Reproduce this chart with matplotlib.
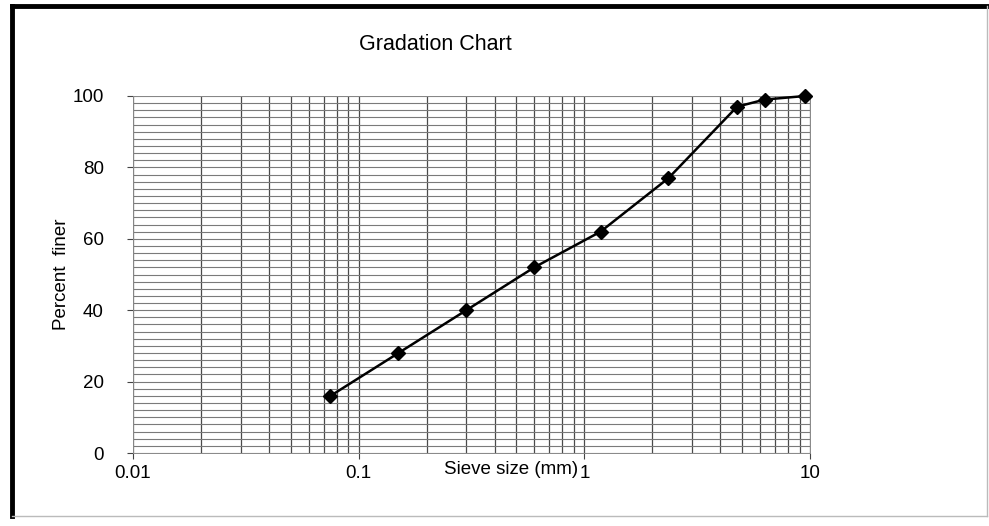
import numpy as np
import matplotlib.pyplot as plt
from matplotlib.ticker import MultipleLocator, LogLocator, NullFormatter, FixedLocator, FixedFormatter
from matplotlib.lines import Line2D

# sieve analysis data
sieve_mm = [0.075, 0.15, 0.3, 0.6, 1.18, 2.36, 4.75, 6.3, 9.5]
pct_finer = [16, 28, 40, 52, 62, 77, 97, 99, 100]

x_ticks = [0.01, 0.1, 1, 10]
x_ticklabels = ['0.01', '0.1', '1', '10']
y_ticks = [0, 20, 40, 60, 80, 100]

plt.rcParams['font.family'] = ['Liberation Sans', 'DejaVu Sans']
fs = 13.5
W, H = 989, 526

fig = plt.figure(figsize=(W / 100, H / 100), dpi=100)
ax = fig.add_axes([133 / W, 1 - 453 / H, (810 - 133) / W, (453 - 96) / H])

ax.set_xscale('log')
ax.set_xlim(0.01, 10)
ax.set_ylim(0, 100)

ax.plot(sieve_mm, pct_finer, '-', color='black', lw=1.8, marker='D', ms=7,
        mfc='black', mec='black', zorder=5, clip_on=False)

# dense graph-paper grid
ax.xaxis.set_major_locator(FixedLocator(x_ticks))
ax.xaxis.set_major_formatter(FixedFormatter(x_ticklabels))
ax.xaxis.set_minor_locator(LogLocator(base=10, subs=np.arange(2, 10)))
ax.xaxis.set_minor_formatter(NullFormatter())
ax.yaxis.set_major_locator(FixedLocator(y_ticks))
ax.yaxis.set_minor_locator(MultipleLocator(2))

ax.grid(axis='x', which='both', color='#4a4a4a', lw=0.9)
ax.grid(axis='y', which='both', color='#7a7a7a', lw=0.8)
ax.set_axisbelow(True)

for s in ax.spines.values():
    s.set_color('#888888')
    s.set_linewidth(0.7)

ax.tick_params(axis='both', which='major', labelsize=fs, length=4,
               color='#444444')
ax.tick_params(axis='x', which='major', pad=5)
ax.tick_params(axis='y', which='major', pad=17)
ax.tick_params(which='minor', length=0)

ax.set_ylabel('Percent  finer', fontsize=fs)
ax.yaxis.set_label_coords(-0.093, 0.5)

fig.text(511 / W, 1 - 470 / H, 'Sieve size (mm)', fontsize=fs,
         ha='center', va='center')
fig.text(435 / W, 1 - 45 / H, 'Gradation Chart', fontsize=15.5,
         ha='center', va='center')

# outer frame: heavy top/left, light bottom/right
fig.add_artist(Line2D([12 / W, 1], [1 - 6 / H, 1 - 6 / H], color='black', lw=3.5))
fig.add_artist(Line2D([12 / W, 12 / W], [1 - 6 / H, 1 - 516 / H], color='black', lw=3.5))
fig.add_artist(Line2D([12 / W, 987 / W], [1 - 516 / H, 1 - 516 / H], color='#bbbbbb', lw=1))
fig.add_artist(Line2D([987 / W, 987 / W], [1 - 6 / H, 1 - 516 / H], color='#bbbbbb', lw=1))

fig.savefig('out.png', dpi=100)
